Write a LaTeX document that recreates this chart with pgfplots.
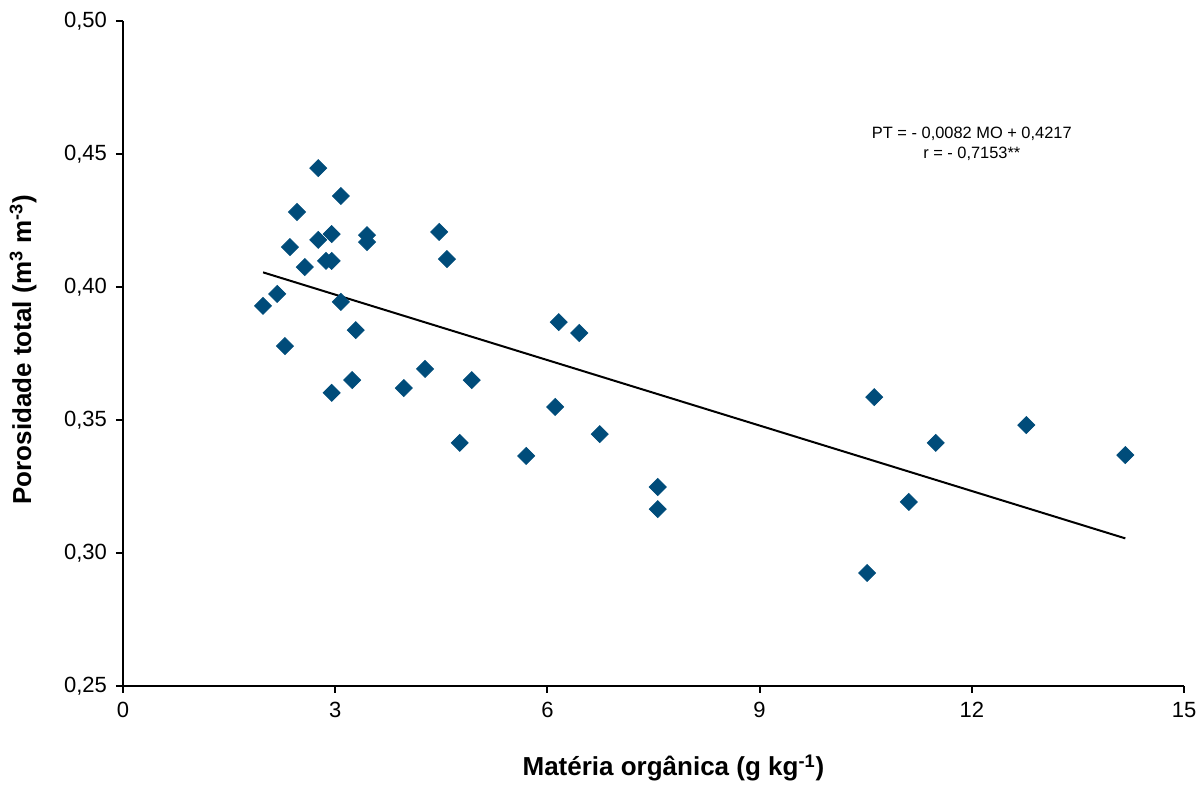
\documentclass[border=0pt]{standalone}
\usepackage{fontspec}
\setmainfont{Liberation Sans}
\usepackage{pgfplots}
\pgfplotsset{compat=1.18}
\definecolor{ptblue}{HTML}{004C7A}

\pgfplotstableread{
x y
1.98 0.3929
2.18 0.3974
2.29 0.3778
2.36 0.4150
2.46 0.4282
2.57 0.4075
2.76 0.4447
2.76 0.4177
2.87 0.4098
2.95 0.4098
2.95 0.4199
3.08 0.4342
3.08 0.3944
2.95 0.3602
3.24 0.3650
3.29 0.3838
3.45 0.4195
3.45 0.4169
3.97 0.3620
4.27 0.3692
4.47 0.4207
4.58 0.4105
4.76 0.3414
4.93 0.3650
5.70 0.3365
6.11 0.3549
6.16 0.3868
6.45 0.3827
6.74 0.3447
7.56 0.3248
7.56 0.3165
10.52 0.2925
10.62 0.3586
11.11 0.3192
11.49 0.3414
12.77 0.3481
14.17 0.3368
}\pts

\begin{document}
\begin{tikzpicture}
  \useasboundingbox (-61.5pt,-49.5pt) rectangle (539.5pt,343pt);
  \begin{axis}[
    scale only axis,
    width=530.5pt,
    height=332.5pt,
    at={(0,0)},
    anchor=south west,
    xmin=0, xmax=15,
    ymin=0.25, ymax=0.50,
    xtick={0,3,...,15},
    ytick={0.25,0.30,...,0.50},
    axis x line=bottom,
    axis y line=left,
    axis line style={-, line width=1pt},
    tick style={black, line width=1pt},
    tick align=outside,
    major tick length=3.5pt,
    xtick pos=bottom, ytick pos=left,
    /pgf/number format/assume math mode=true,
    y tick label style={font=\fontsize{11}{12}\selectfont, xshift=-1pt,
      /pgf/number format/.cd, fixed, fixed zerofill, precision=2, use comma},
    x tick label style={font=\fontsize{11}{12}\selectfont, yshift=-1pt},
    xlabel={\textbf{Matéria orgânica (g kg\textsuperscript{-1})}},
    ylabel={\textbf{Porosidade total (m\textsuperscript{3} m\textsuperscript{-3})}},
    xlabel style={font=\fontsize{13}{15}\selectfont, at={(axis description cs:0.5,0)}, anchor=center, yshift=-41pt, xshift=10pt},
    ylabel style={font=\fontsize{13}{15}\selectfont, at={(axis description cs:0,0.5)}, anchor=center, yshift=50pt, xshift=2pt},
    clip=false,
  ]
    \addplot[black, line width=1pt] coordinates {(1.98,0.4055) (14.17,0.3055)};
    \addplot[only marks, mark=square*, mark size=3pt,
      mark options={fill=ptblue, draw=ptblue, rotate=45}] table[x=x,y=y] {\pts};
    \node[align=center, font=\fontsize{8.2}{10}\selectfont, anchor=center]
      at (axis cs:12.0,0.4540) {PT = - 0,0082 MO + 0,4217\\r = - 0,7153**};
  \end{axis}
\end{tikzpicture}
\end{document}
